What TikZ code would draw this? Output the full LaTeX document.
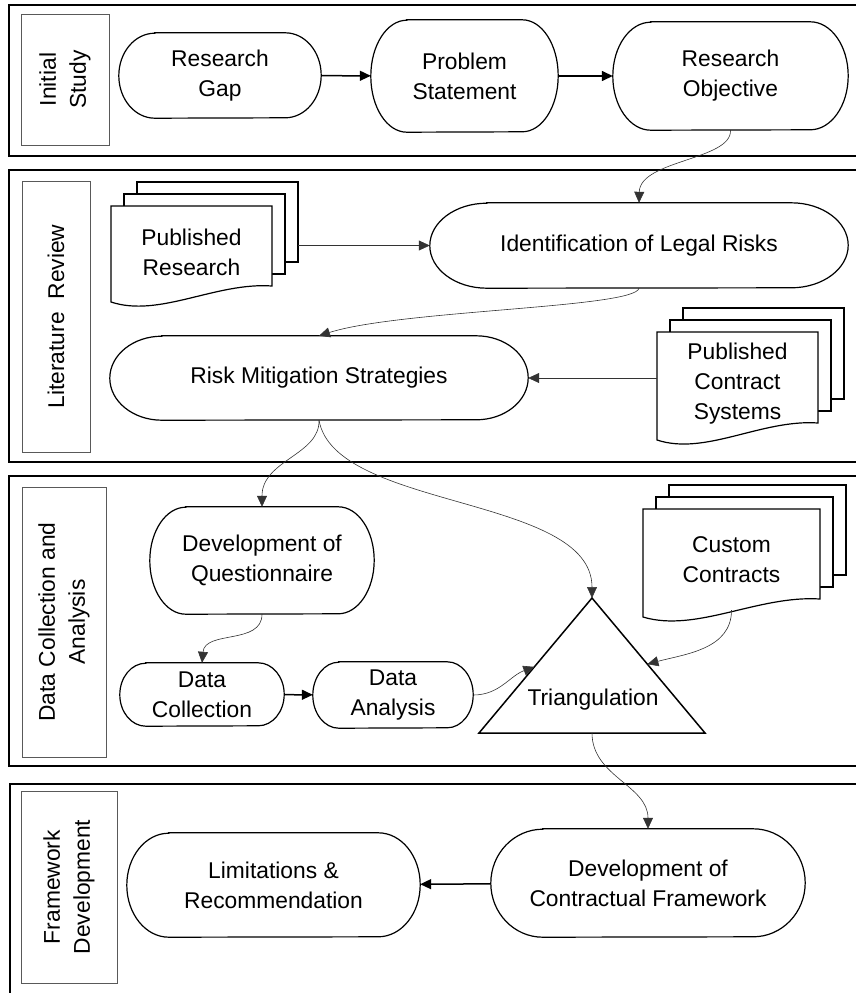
\documentclass[tikz,border=0pt]{standalone}
\usepackage{fontspec}
\setmainfont{Liberation Sans}
\usetikzlibrary{arrows.meta,calc}

% stack of three pages: left, top, right, bottom left, bottom right (pixels, y down)
\newcommand{\docpages}[5]{%
  \foreach \k in {2,1}{
    \draw[page] ({#1+13*\k},{-#2+12*\k}) rectangle ({#3+13*\k},{-#5+12*\k});
  }
  \draw[page] ({#1},{-#2}) -- ({#3},{-#2}) -- ({#3},{-#5})
    .. controls ({#3-0.35*(#3-#1)},{-#5+4}) and ({#1+0.3*(#3-#1)},{-#4-16}) .. ({#1},{-#4}) -- cycle;
}

% terminator: name, x, y, width, height, end bulge, text
\newcommand{\termbox}[7]{%
  \node[term, minimum width=#4, minimum height=#5] (#1) at (#2,#3) {#7};
  \draw[termline] ($(#1.north west)+(#6,0)$) -- ($(#1.north east)+(-#6,0)$)
    arc[start angle=90, end angle=-90, x radius=#6, y radius={#5/2}]
    -- ($(#1.south west)+(#6,0)$)
    arc[start angle=270, end angle=90, x radius=#6, y radius={#5/2}] -- cycle;
}

\tikzset{
  panel/.style={draw, line width=1.8pt},
  tag/.style={draw=black!65, line width=0.8pt, rotate=90, align=center, inner sep=0pt},
  term/.style={rectangle, align=center, inner sep=0pt},
  termline/.style={line width=1.2pt},
  page/.style={draw, fill=white, line width=1.2pt},
  doc/.style={align=center, inner sep=0pt},
  flow/.style={-{Triangle[length=11pt,width=10pt]}, line width=1.5pt},
  link/.style={-{Triangle[length=11pt,width=10pt]}, line width=0.6pt, black!80},
}

\begin{document}
\begin{tikzpicture}[x=1pt,y=1pt,font=\fontsize{22.8}{30}\selectfont]
  \path[use as bounding box, clip] (0,0) rectangle (856,-993);

  % the four stages
  \draw[panel] (9,-5) rectangle (870,-156);
  \draw[panel] (9,-170) rectangle (870,-462);
  \draw[panel] (9,-476) rectangle (870,-766);
  \draw[panel] (10,-784) rectangle (870,-1010);

  \node[tag, minimum width=131, minimum height=88] (initlabel) at (65,-79.5) {Initial\\Study};
  \node[tag, minimum width=271, minimum height=68] (litlabel) at (56,-316.5) {Literature\ \ Review};
  \node[tag, minimum width=270, minimum height=84] (datalabel) at (64,-622) {Data Collection and\\Analysis};
  \node[tag, minimum width=192, minimum height=96] (framelabel) at (69,-887) {Framework\\Development};

  % initial study
  \termbox{gap}{220}{-75.5}{202}{85}{36}{Research\\Gap}
  \termbox{problem}{464.5}{-76}{187}{112}{36}{Problem\\Statement}
  \termbox{objective}{730.5}{-76}{235}{108}{38}{Research\\Objective}

  \draw[flow] (gap) -- (problem);
  \draw[flow] (problem) -- (objective);

  % literature review
  \docpages{111}{206}{272}{302}{286}
  \node[doc, minimum width=161, minimum height=90] (pubres) at (191.5,-252) {Published\\Research};
  \termbox{legal}{639}{-245.5}{418}{85}{57}{Identification of Legal Risks}
  \termbox{mitig}{319}{-378}{418}{84}{52}{Risk Mitigation Strategies}
  \docpages{657}{332}{818}{440}{423}
  \node[doc, minimum width=161, minimum height=98] (pubcon) at (737.5,-384) {Published\\Contract\\Systems};

  \draw[link] (objective.south) .. controls (732,-160) and (640,-160) .. (legal.north);
  \draw[link] ($(pubres.east |- legal.west)+(26,0)$) -- (legal.west);
  \draw[link] (legal.south) .. controls (635,-308) and (400,-310) .. (mitig.north);
  \draw[link] (mitig.east -| pubcon.west) -- (mitig.east);

  % data collection and analysis
  \termbox{quest}{262}{-560.5}{224}{107}{36}{Development of\\Questionnaire}
  \termbox{collect}{202}{-694.5}{164}{63}{26}{Data\\Collection}
  \termbox{analysis}{393}{-695}{160}{66}{26}{Data\\Analysis}
  \docpages{643}{509}{820}{617}{599}
  \node[doc, minimum width=177, minimum height=100] (custom) at (731.5,-560) {Custom\\Contracts};

  \coordinate (tri-top) at (592,-598);
  \coordinate (tri-left) at (479,-733);
  \coordinate (tri-right) at (705,-733);
  \draw[line width=1.5pt] (tri-top) -- (tri-left) -- (tri-right) -- cycle;
  \node (tri) at (593,-700) {Triangulation};
  \coordinate (tri-lside) at ($(tri-top)!0.51!(tri-left)$);
  \coordinate (tri-rside) at ($(tri-top)!0.49!(tri-right)$);
  \coordinate (tri-base) at ($(tri-left)!0.5!(tri-right)$);

  \draw[link] (mitig.south) .. controls (320,-455) and (262,-460) .. (quest.north);
  \draw[link] (mitig.south) .. controls (335,-510) and (592,-495) .. (tri-top);
  \draw[link] (quest.south) .. controls (262,-645) and (205,-630) .. (collect.north);
  \draw[flow] (collect) -- (analysis);
  \draw[link] (analysis.east) to[out=0,in=200] (tri-lside);
  \draw[link] (custom.south) to[out=-90,in=15] (tri-rside);

  % framework development
  \termbox{limits}{273.5}{-885}{293}{104}{42}{Limitations \&\\Recommendation}
  \termbox{framework}{648}{-883}{314}{108}{52}{Development of\\Contractual Framework}

  \draw[link] (tri-base) to[out=-90,in=90] (framework.north);
  \draw[flow] (framework) -- (limits);
\end{tikzpicture}
\end{document}
